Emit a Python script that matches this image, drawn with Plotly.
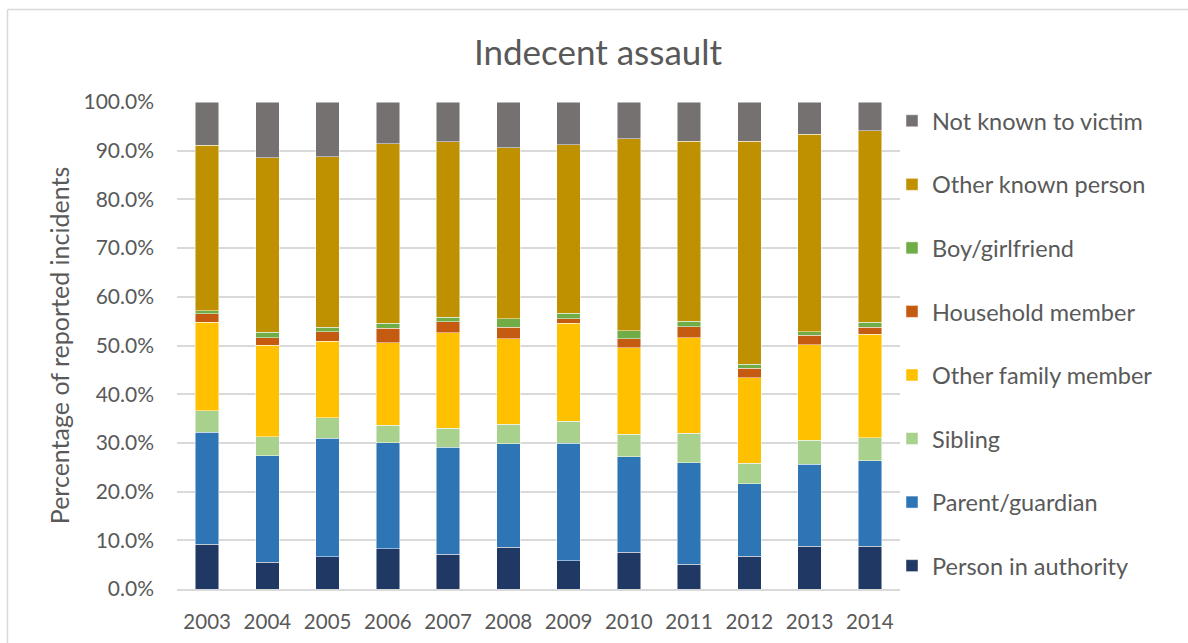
import plotly.graph_objects as go

years = ["2003", "2004", "2005", "2006", "2007", "2008", "2009", "2010", "2011", "2012", "2013", "2014"]

person_in_authority = [9.2, 5.5, 6.6, 8.3, 7.1, 8.6, 5.8, 7.5, 5.1, 6.7, 8.8, 8.8]
parent_guardian     = [23.0, 21.9, 24.4, 21.7, 22.0, 21.2, 24.1, 19.7, 20.8, 14.9, 16.8, 17.5]
sibling             = [4.4, 3.9, 4.2, 3.6, 3.9, 4.0, 4.5, 4.6, 6.1, 4.2, 4.9, 4.8]
other_family_member = [18.2, 18.8, 15.7, 17.0, 19.6, 17.6, 20.2, 17.7, 19.6, 17.6, 19.7, 21.2]
household_member    = [1.7, 1.5, 1.9, 2.9, 2.3, 2.3, 0.9, 1.9, 2.2, 1.9, 1.9, 1.4]
boy_girlfriend      = [0.6, 1.1, 0.9, 1.1, 0.9, 1.8, 1.1, 1.6, 1.2, 0.8, 0.7, 1.1]
other_known_person  = [34.0, 35.9, 35.1, 36.8, 36.0, 35.1, 34.6, 39.5, 36.9, 45.8, 40.6, 39.3]
not_known_to_victim = [8.9, 11.4, 11.2, 8.6, 8.2, 9.4, 8.8, 7.5, 8.1, 8.1, 6.6, 5.9]

series = [
    ("Person in authority", person_in_authority, "#203864"),
    ("Parent/guardian", parent_guardian, "#2E75B6"),
    ("Sibling", sibling, "#A9D18E"),
    ("Other family member", other_family_member, "#FFC000"),
    ("Household member", household_member, "#C55A11"),
    ("Boy/girlfriend", boy_girlfriend, "#70AD47"),
    ("Other known person", other_known_person, "#BF9000"),
    ("Not known to victim", not_known_to_victim, "#767171"),
]

FONT = "Lato, 'Open Sans', sans-serif"
TXT = "#595959"

fig = go.Figure()
n = len(series)
for i, (name, vals, color) in enumerate(series):
    fig.add_trace(go.Bar(
        x=years,
        y=[v / 100 for v in vals],
        name=name,
        legendgroup=f"g{i}",
        legendrank=n - i,
        marker=dict(color=color, line=dict(color="rgba(255,255,255,0.6)", width=0.8)),
    ))

L, R, T, B = 177, 900, 102, 589
W, H = 1188, 643

def px_x(px):
    return (px - L) / (R - L)

def px_y(py):
    return (B - py) / (B - T)

fig.update_layout(
    width=W, height=H,
    barmode="stack",
    bargap=0.607,
    paper_bgcolor="white",
    plot_bgcolor="white",
    margin=dict(l=L, r=W - R, t=T, b=H - B, pad=0, autoexpand=False),
    font=dict(family=FONT, color=TXT),
    title=dict(text="Indecent assault", x=598 / W, xanchor="center",
               y=1 - 53 / H, yanchor="middle",
               font=dict(size=35, family=FONT, color=TXT)),
    xaxis=dict(
        tickfont=dict(size=20.5, family=FONT, color=TXT),
        showgrid=False, showline=True, linecolor="#d9d9d9", linewidth=1.5,
        ticks="", ticklabelstandoff=14, automargin=False,
    ),
    yaxis=dict(
        range=[0, 1],
        tickformat=".1%",
        dtick=0.1,
        tickfont=dict(size=21, family=FONT, color=TXT),
        showgrid=True, gridcolor="#d9d9d9", gridwidth=1.5,
        zeroline=False, showline=False, ticks="",
        ticklabelstandoff=22, automargin=False,
        title=dict(text="Percentage of reported incidents",
                   font=dict(size=25, family=FONT, color=TXT), standoff=6),
    ),
    legend=dict(
        x=px_x(892), xanchor="left",
        y=px_y(99), yanchor="top",
        traceorder="grouped",
        tracegroupgap=30,
        font=dict(size=23.5, family=FONT, color=TXT),
        itemwidth=30,
        maxheight=620,
        bgcolor="rgba(0,0,0,0)",
    ),
    shapes=[
        dict(type="line", xref="paper", yref="paper",
             x0=px_x(7.5), x1=px_x(1200), y0=px_y(9.5), y1=px_y(9.5),
             line=dict(color="#d9d9d9", width=1.5)),
        dict(type="line", xref="paper", yref="paper",
             x0=px_x(7.5), x1=px_x(7.5), y0=px_y(9.5), y1=px_y(660),
             line=dict(color="#d9d9d9", width=1.5)),
    ],
)

fig.write_html("out.html", config={"displayModeBar": False},
               post_script="document.body.style.margin='0';")
